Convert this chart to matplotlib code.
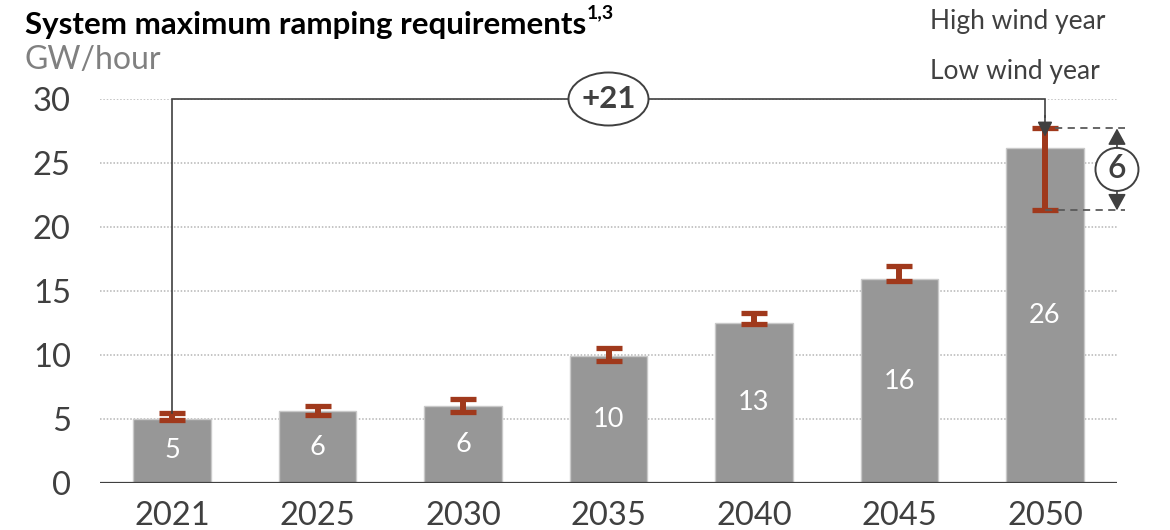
import matplotlib
matplotlib.use("Agg")
import matplotlib.pyplot as plt
from matplotlib.patches import Ellipse

plt.rcParams['font.family'] = ['Lato', 'DejaVu Sans']

# Data
years = ["2021", "2025", "2030", "2035", "2040", "2045", "2050"]
ramp = [5.0, 5.6, 6.0, 9.9, 12.5, 15.9, 26.2]
labels = ["5", "6", "6", "10", "13", "16", "26"]
low_wind = [5.45, 6.05, 6.55, 10.55, 13.3, 16.95, 27.7]   # upper whisker
high_wind = [4.95, 5.3, 5.55, 9.5, 12.4, 15.8, 21.3]      # lower whisker
y_ticks = [0, 5, 10, 15, 20, 25, 30]
growth_label = "+21"
spread_label = "6"

BAR = "#979797"
RUST = "#A0391C"
DARK = "#404040"
GRID = "#B5B5B5"

fig = plt.figure(figsize=(11.7, 5.3), dpi=100)
W, H = 1170, 530
ax = fig.add_axes([100 / W, 1 - 483 / H, 1017 / W, (483 - 99) / H])

x = list(range(len(years)))

# Gridlines
for t in y_ticks[1:]:
    ax.axhline(t, color=GRID, lw=1.1, ls=(0, (1, 1.2)), zorder=0)

# Bars
ax.bar(x, ramp, width=0.535, color=BAR, edgecolor="#C9C9C9", linewidth=1, zorder=2)
for xi, v, lab in zip(x, ramp, labels):
    ax.text(xi, v / 2, lab, ha="center", va="center", color="white",
            fontsize=19.5, zorder=5)

# Wind-year range whiskers
mid = [(a + b) / 2 for a, b in zip(low_wind, high_wind)]
err = [[m - b for m, b in zip(mid, high_wind)], [a - m for a, m in zip(low_wind, mid)]]
ax.errorbar(x, mid, yerr=err, fmt="none", ecolor=RUST, elinewidth=4.3,
            capsize=9.5, capthick=3.8, zorder=3)

# Connector from 2021 to 2050
ax.plot([0, 0, 6, 6], [low_wind[0], 30, 30, 28.6], color=DARK, lw=1.2,
        zorder=4, solid_joinstyle="miter", clip_on=False)
ax.annotate("", xy=(6, 27.05), xytext=(6, 28.7),
            arrowprops=dict(arrowstyle="-|>,head_length=0.9,head_width=0.45",
                            color=DARK, lw=1.2, shrinkA=0, shrinkB=0),
            zorder=4, annotation_clip=False)
px_x = 1 / 145.5
px_y = 1 / 12.8
ax.add_patch(Ellipse((3, 30), 80 * px_x, 53 * px_y, facecolor="white",
                     edgecolor=DARK, lw=1.4, zorder=6, clip_on=False))
ax.text(3, 30, growth_label, ha="center", va="center", fontsize=22.5,
        fontweight="bold", color=DARK, zorder=7, clip_on=False)

# Spread between wind years for 2050
xr = 6 + 72 * px_x
for y0, xs in ((low_wind[6], 6 + 10 * px_x), (high_wind[6], 6)):
    ax.plot([xs, 6 + 80 * px_x], [y0, y0], color="#5A5A5A", lw=1.3,
            ls=(0, (4, 3)), zorder=4, clip_on=False)
cy = 24.5
ax.add_patch(Ellipse((xr, cy), 43 * px_x, 43 * px_y, facecolor="white",
                     edgecolor=DARK, lw=1.4, zorder=6, clip_on=False))
ax.text(xr, cy, spread_label, ha="center", va="center", fontsize=23,
        fontweight="semibold", color=DARK, zorder=7, clip_on=False)
for y_from, y_to in ((cy + 21.5 * px_y, low_wind[6]), (cy - 21.5 * px_y, high_wind[6])):
    ax.annotate("", xy=(xr, y_to), xytext=(xr, y_from),
                arrowprops=dict(arrowstyle="-|>,head_length=1.0,head_width=0.55",
                                color=DARK, lw=1.2, shrinkA=0, shrinkB=0),
                zorder=6, annotation_clip=False)

# Axes styling
ax.set_xlim(-0.495, 6.495)
ax.set_ylim(0, 30)
ax.axhline(0, color=DARK, lw=1.6, zorder=5)
for s in ax.spines.values():
    s.set_visible(False)
ax.set_yticks(y_ticks)
ax.set_yticklabels([str(t) for t in y_ticks])
ax.set_xticks(x)
ax.set_xticklabels(years)
ax.tick_params(axis="y", length=0, pad=21, labelsize=23.5, labelcolor=DARK)
ax.tick_params(axis="x", length=0, pad=13, labelsize=23.5, labelcolor=DARK)

# Title, unit and legend text
title = fig.text(25 / W, 1 - 25 / H, "System maximum ramping requirements",
                 fontsize=22.5, fontweight="bold", color="black", va="center")
fig.canvas.draw()
bb = title.get_window_extent()
fig.text(bb.x1 / W + 1 / W, bb.y1 / H - 10 / H, "1,3", fontsize=14,
         fontweight="bold", color="black", va="bottom")
fig.text(25 / W, 1 - 60 / H, "GW/hour", fontsize=23, color="#808080", va="center")
fig.text(930 / W, 1 - 22 / H, "High wind year", fontsize=19, color=DARK, va="center")
fig.text(930 / W, 1 - 72 / H, "Low wind year", fontsize=19, color=DARK, va="center")

fig.savefig("out.png", dpi=100)
